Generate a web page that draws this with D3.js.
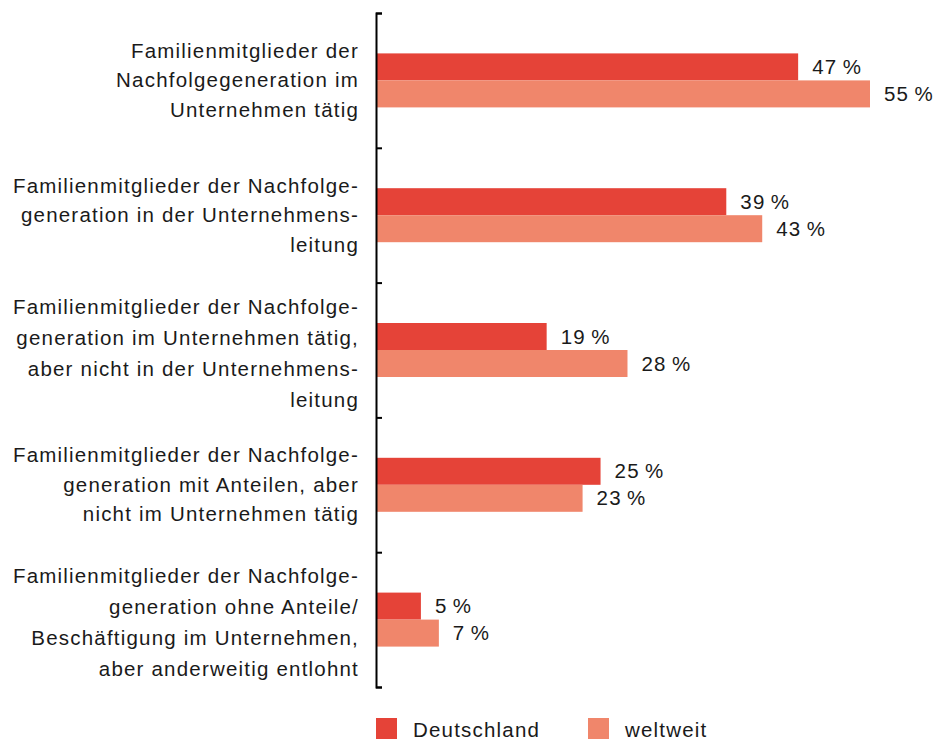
<!DOCTYPE html>
<html>
<head>
<meta charset="utf-8">
<script src="https://cdn.jsdelivr.net/npm/d3@7"></script>
<style>
  body { margin: 0; background: #fff; }
  svg text { font-family: "Liberation Sans", Arial, Helvetica, sans-serif; font-size: 20.5px; fill: #1a1a1a; letter-spacing: 1.2px; }
</style>
</head>
<body>
<div class="chart"></div>
<script>
// categories, one array of lines each
const categories = [
  ["Familienmitglieder der", "Nachfolgegeneration im", "Unternehmen tätig"],
  ["Familienmitglieder der Nachfolge-", "generation in der Unternehmens-", "leitung"],
  ["Familienmitglieder der Nachfolge-", "generation im Unternehmen tätig,", "aber nicht in der Unternehmens-", "leitung"],
  ["Familienmitglieder der Nachfolge-", "generation mit Anteilen, aber", "nicht im Unternehmen tätig"],
  ["Familienmitglieder der Nachfolge-", "generation ohne Anteile/", "Beschäftigung im Unternehmen,", "aber anderweitig entlohnt"]
];
const deutschland = [47, 39, 19, 25, 5];
const weltweit = [55, 43, 28, 23, 7];
const seriesNames = ["Deutschland", "weltweit"];
const seriesColors = ["#e54338", "#f0866b"];

const width = 935, height = 740;
const margin = {top: 13, left: 376, bottom: 53};

const svg = d3.select(".chart").append("svg")
    .attr("width", width)
    .attr("height", height);

const yScale = d3.scaleBand()
    .domain(d3.range(categories.length))
    .range([margin.top, height - margin.bottom]);

const xScale = d3.scaleLinear()
    .domain([0, 55])
    .range([margin.left, 870]);

const barH = 27;

// bars
const series = [deutschland, weltweit];
series.forEach(function(vals, s) {
    svg.selectAll(".bar" + s)
        .data(vals)
        .enter()
        .append("rect")
        .attr("x", xScale(0))
        .attr("y", (d, i) => yScale(i) + yScale.bandwidth() / 2 - barH + s * barH)
        .attr("width", d => xScale(d) - xScale(0))
        .attr("height", barH)
        .style("fill", seriesColors[s]);

    svg.selectAll(".val" + s)
        .data(vals)
        .enter()
        .append("text")
        .attr("x", d => xScale(d) + 14)
        .attr("y", (d, i) => yScale(i) + yScale.bandwidth() / 2 - barH / 2 + s * barH + 7)
        .text(d => d + "\u2009%");
});

// axis with ticks at band boundaries, pointing right
const yLin = d3.scaleLinear()
    .domain([0, categories.length])
    .range([margin.top, height - margin.bottom]);

const yAxis = d3.axisLeft(yLin)
    .tickValues(d3.range(categories.length + 1))
    .tickSizeInner(-6)
    .tickSizeOuter(-6)
    .tickFormat("");

svg.append("g")
    .attr("class", "axis")
    .attr("transform", "translate(" + margin.left + ",0)")
    .call(yAxis)
    .call(g => g.selectAll("path, line").attr("stroke", "#000").attr("stroke-width", 2));

// category labels
categories.forEach(function(lines, i) {
    const lineH = lines.length > 3 ? 31 : 29.5;
    const cy = yScale(i) + yScale.bandwidth() / 2 + (lines.length > 3 ? 3 : 0);
    const t = svg.append("text")
        .attr("text-anchor", "end");
    lines.forEach(function(l, k) {
        t.append("tspan")
            .attr("x", 359)
            .attr("y", cy + 7 + (k - (lines.length - 1) / 2) * lineH)
            .text(l);
    });
});

// legend
const legendX = [376, 588];
seriesNames.forEach(function(name, s) {
    svg.append("rect")
        .attr("x", legendX[s])
        .attr("y", 718)
        .attr("width", 21)
        .attr("height", 21)
        .style("fill", seriesColors[s]);
    svg.append("text")
        .attr("x", legendX[s] + 37)
        .attr("y", 737)
        .text(name);
});
</script>
</body>
</html>
